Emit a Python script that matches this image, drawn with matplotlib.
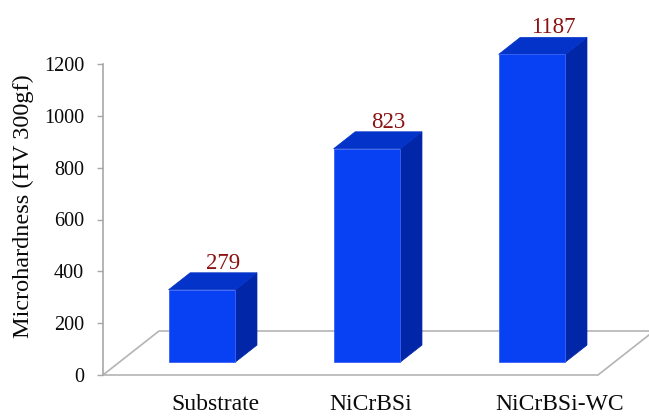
import matplotlib
matplotlib.use("Agg")
import matplotlib.pyplot as plt
from matplotlib.patches import Polygon
from matplotlib.transforms import blended_transform_factory

# ---- data -------------------------------------------------------------
categories = ["Substrate", "NiCrBSi", "NiCrBSi-WC"]
hardness = [279, 823, 1187]
y_ticks = [0, 200, 400, 600, 800, 1000, 1200]
y_label = "Microhardness (HV 300gf)"

# ---- layout / style ---------------------------------------------------
W, H, DPI = 649, 416, 100
FRONT = "#0840f4"
TOP = "#0333c8"
SIDE = "#0226a8"
EDGE = "#b4b4b4"
VALUE_COLOR = "#8b1212"
LABEL_SHIFT = [0.18, 0.12, 0.27]   # horizontal nudge of category labels

plt.rcParams["font.family"] = ["Liberation Serif", "DejaVu Serif"]

fig = plt.figure(figsize=(W / DPI, H / DPI), dpi=DPI)
ax = fig.add_axes([103 / W, 41 / H, 495 / W, 311 / H])
ax.set_xlim(-0.5, 2.5)
ax.set_ylim(0, 1200)
ax.patch.set_visible(False)

# oblique projection: depth d in [0, 1] spans the floor from front to back
DX = 56 / 165            # category units per unit of depth
DY = 44 * 1200 / 311     # value units per unit of depth


def proj(x, v, d):
    return (x + d * DX, v + d * DY)


# floor
floor = [proj(-0.5, 0, 0), proj(2.5, 0, 0), proj(2.5, 0, 1), proj(-0.5, 0, 1)]
ax.add_patch(Polygon(floor, closed=True, facecolor="white", edgecolor=EDGE,
                     lw=1.2, clip_on=False, zorder=1))

# 3-D looking columns
BAR_W = 0.405
D0, D1 = 0.295, 0.68
for i, v in enumerate(hardness):
    x0, x1 = i - BAR_W / 2, i + BAR_W / 2
    side = [proj(x1, 0, D0), proj(x1, 0, D1), proj(x1, v, D1), proj(x1, v, D0)]
    top = [proj(x0, v, D0), proj(x1, v, D0), proj(x1, v, D1), proj(x0, v, D1)]
    ax.add_patch(Polygon(side, closed=True, facecolor=SIDE, edgecolor=SIDE,
                         lw=0.5, clip_on=False, zorder=2))
    ax.add_patch(Polygon(top, closed=True, facecolor=TOP, edgecolor=TOP,
                         lw=0.5, clip_on=False, zorder=2))

bars = ax.bar([i + D0 * DX for i in range(len(hardness))], hardness,
              width=BAR_W, bottom=D0 * DY, color=FRONT, edgecolor="#3a62f6",
              linewidth=0.6, zorder=3)
for b in bars:
    b.set_clip_on(False)

# value labels above each column
for i, v in enumerate(hardness):
    xb, yb = proj(i, v, D1)
    ax.annotate(str(v), (xb, yb), xytext=(0, 3), textcoords="offset points",
                ha="center", va="baseline", fontsize=16.5, color=VALUE_COLOR,
                annotation_clip=False)

# category labels
trans = blended_transform_factory(ax.transData, ax.transAxes)
for i, name in enumerate(categories):
    ax.text(i + LABEL_SHIFT[i], -0.113, name, transform=trans, ha="center",
            va="baseline", fontsize=17, color="#0a0a0a")

# value axis
ax.set_xticks([])
ax.set_yticks(y_ticks)
ax.set_yticklabels([str(t) for t in y_ticks])
ax.tick_params(axis="y", direction="out", length=4.5, width=1.0,
               color="#a8a8a8", labelsize=14.5, pad=9, labelcolor="#0a0a0a")
for s in ("top", "right", "bottom"):
    ax.spines[s].set_visible(False)
ax.spines["left"].set_color("#a8a8a8")
ax.spines["left"].set_linewidth(1.2)

fig.text(23 / W, 1 - 206 / H, y_label, rotation=90, ha="center", va="center",
         fontsize=17.5, color="#0a0a0a")

fig.savefig("out.png", dpi=DPI)
